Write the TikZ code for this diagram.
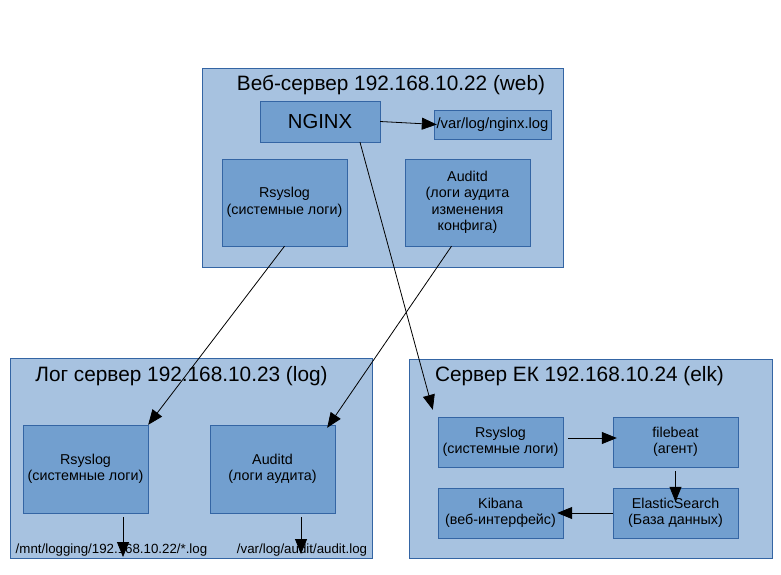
\documentclass[tikz,border=0pt]{standalone}
\usepackage{fontspec}
\setmainfont{Liberation Sans}
\usetikzlibrary{arrows.meta}
\definecolor{hostfill}{HTML}{A7C2E0}
\definecolor{boxfill}{HTML}{729FCF}
\definecolor{boxline}{HTML}{3465A4}
\tikzset{
  host/.style={draw=boxline, fill=hostfill, inner sep=0},
  hosttitle/.style={font=\fontsize{20.8}{23}\selectfont, inner sep=0},
  svc/.style={draw=boxline, fill=boxfill, align=center, inner sep=0, minimum width=125pt, font=\fontsize{14.3}{16.5}\selectfont},
  path/.style={inner sep=0, font=\fontsize{13.3}{15}\selectfont},
  flow/.style={line width=0.8pt, -{Triangle[length=15pt,width=12pt]}},
}
\begin{document}
\begin{tikzpicture}[x=1pt,y=-1pt]
  \useasboundingbox (0,0) rectangle (781,574);
  % servers
  \node[host, minimum width=361pt, minimum height=199pt] (web) at (382.5,167.5) {};
  \node[host, minimum width=362pt, minimum height=200pt] (log) at (191,458) {};
  \node[host, minimum width=363pt, minimum height=199pt] (elk) at (590.5,458.5) {};
  \node[hosttitle] (webtitle) at (391,85) {Веб-сервер 192.168.10.22 (web)};
  \node[hosttitle] (logtitle) at (181.5,376) {Лог сервер 192.168.10.23 (log)};
  \node[hosttitle] (elktitle) at (579.5,376) {Сервер ЕК 192.168.10.24 (elk)};
  % web
  \node[svc, minimum width=120pt, minimum height=41pt, font=\fontsize{20.3}{22}\selectfont] (nginx) at (320,121.5) {NGINX};
  \node[svc, minimum width=117pt, minimum height=29pt, font=\fontsize{14.8}{16}\selectfont] (nginxlog) at (492.5,124.5) {/var/log/nginx.log};
  \node[svc, minimum height=87pt] (wrsyslog) at (284.5,202.5) {Rsyslog\\(системные логи)};
  \node[svc, minimum height=87pt] (wauditd) at (467.5,202.5) {Auditd\\(логи аудита\\изменения\\конфига)};
  % log
  \node[svc, minimum height=88pt] (lrsyslog) at (85.5,469) {Rsyslog\\(системные логи)};
  \node[svc, minimum height=88pt] (lauditd) at (272.5,469) {Auditd\\(логи аудита)};
  \node[path] (lrlog) at (111.5,550) {/mnt/logging/192.168.10.22/*.log};
  \node[path] (lalog) at (302,550) {/var/log/audit/audit.log};
  \coordinate (lrtip) at (123,557);
  \coordinate (latip) at (301,554);
  % elk
  \node[svc, minimum height=50pt] (ersyslog) at (500.5,442) {Rsyslog\\(системные логи)};
  \node[svc, minimum height=50pt] (filebeat) at (675.5,442) {filebeat\\(агент)};
  \node[svc, minimum height=50pt] (kibana) at (500.5,513) {Kibana\\(веб-интерфейс)};
  \node[svc, minimum height=50pt] (es) at (675.5,513) {ElasticSearch\\(База данных)};
  % connectors
  \draw[flow] (nginx.east) -- ([xshift=3pt]nginxlog.west);
  \draw[flow] (wrsyslog.south) -- (lrsyslog.north east);
  \draw[flow] ([xshift=-16pt]wauditd.south) -- ([xshift=-8pt,yshift=-3pt]lauditd.north east);
  \draw[flow] ([xshift=40pt]nginx.south) -- ([xshift=-5pt,yshift=7pt]ersyslog.north west);
  \draw[flow] ([xshift=37.5pt,yshift=-4pt]lrsyslog.south) -- (lrtip);
  \draw[flow] ([xshift=28.5pt,yshift=-4pt]lauditd.south) -- (latip);
  \draw[flow] ([xshift=5pt,yshift=4pt]ersyslog.east) -- ([xshift=4pt,yshift=4pt]filebeat.west);
  \draw[flow] ([yshift=-4pt]filebeat.south) -- ([yshift=-14pt]es.north);
  \draw[flow] (es.west) -- ([xshift=-6pt]kibana.east);
\end{tikzpicture}
\end{document}
